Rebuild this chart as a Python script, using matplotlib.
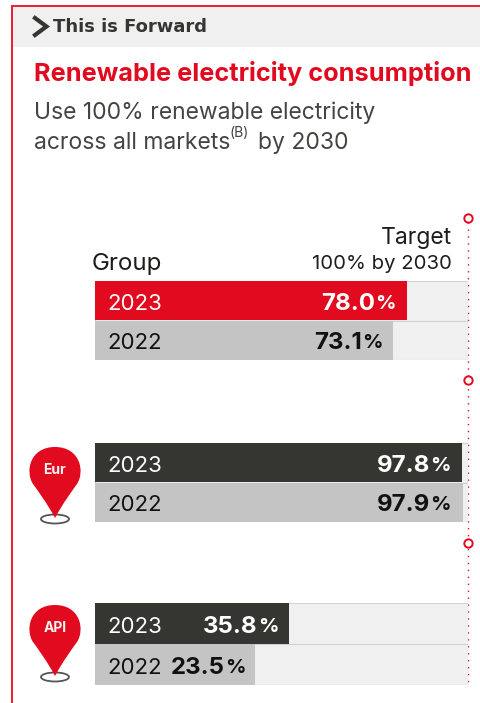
import matplotlib
matplotlib.use("Agg")
import matplotlib.pyplot as plt
from matplotlib.path import Path
from matplotlib.patches import PathPatch, Ellipse, Rectangle

W, H = 481, 703

# valores mostrados e comprimento das barras (% da faixa, a barra original nao esta em escala)
anos = ["2023", "2022"]
grupo_valores = [78.0, 73.1]
eur_valores = [97.8, 97.9]
api_valores = [35.8, 23.5]
grupo_barras = [83.5, 79.9]
eur_barras = [98.3, 98.4]
api_barras = [52.0, 42.9]
cores_2023 = ["#e10a1e", "#353632", "#353632"]
cor_2022 = "#c4c4c4"
cor_fundo = "#f0f0f0"
vermelho = "#e10a1e"
fonte = "Inter"

fig = plt.figure(figsize=(W / 100, H / 100), dpi=100)
ax = fig.add_axes([0, 0, 1, 1])
ax.set_xlim(0, W)
ax.set_ylim(H, 0)
ax.axis("off")

# moldura e cabecalho
ax.add_patch(Rectangle((13, 7), W - 13, 40, color=cor_fundo, lw=0))
ax.plot([12.5, 12.5, W], [H, 6, 6], color="#ee1c30", lw=1.4, solid_joinstyle="miter")
ax.plot([35, 46.5, 35], [18, 26.5, 35], color="#353632", lw=3, solid_joinstyle="miter")
ax.text(53, 26.5, "This is Forward", family="DejaVu Sans", weight="bold", fontsize=13,
        color="#353632", va="center", ha="left")
ax.text(34, 73.5, "Renewable electricity consumption", family=fonte, weight="bold",
        fontsize=18.25, color=vermelho, va="center", ha="left")
ax.text(34, 113, "Use 100% renewable electricity", family=fonte,
        fontsize=16.5, color="#444441", va="center", ha="left")
ax.text(34, 143, "across all markets", family=fonte,
        fontsize=16.5, color="#444441", va="center", ha="left")
ax.text(230, 133, "(B)", family=fonte, fontsize=10,
        color="#444441", va="center", ha="left")
ax.text(258, 143, "by 2030", family=fonte, fontsize=16.5,
        color="#444441", va="center", ha="left")

ax.text(92, 264, "Group", family=fonte, fontsize=17.3, color="#1d1d1b", va="center", ha="left")
ax.text(452, 238, "Target", family=fonte, fontsize=16.5, color="#1d1d1b", va="center", ha="right")
ax.text(452, 264, "100% by 2030", family=fonte, fontsize=14.6, color="#1d1d1b", va="center", ha="right")


def pino(x, y, nome):
    # gota vermelha com o nome da regiao e a argola na ponta
    r = 25.5
    verts = [(x, y + 71), (x - 8, y + 56), (x - 17, y + 44), (x - 22, y + 37),
             (x - 30, y + 25), (x - r, y), (x, y),
             (x + r, y), (x + 30, y + 25), (x + 22, y + 37),
             (x + 17, y + 44), (x + 8, y + 56), (x, y + 71), (x, y + 71)]
    codes = [Path.MOVETO] + [Path.CURVE4] * 12 + [Path.CLOSEPOLY]
    ax.add_patch(Ellipse((x, y + 72), 28, 9, fill=False, ec="#555555", lw=1.3))
    ax.add_patch(PathPatch(Path(verts, codes), fc=vermelho, ec="none", zorder=3))
    ax.text(x, y + 23.5, nome, family=fonte, weight="bold", fontsize=10, color="#f5f5f5",
            va="center", ha="center", zorder=4)


pino(55, 447, "Eur")
pino(55, 605, "API")

# linha da meta
ax.plot([468, 468], [222, 685], color=vermelho, lw=1, ls=(0, (1, 4)), zorder=6)
for yc in [218, 380, 543]:
    ax.plot(468, yc, "o", ms=6, mfc="white", mec=vermelho, mew=1.4, zorder=7)


def grupo(topo, base, valores, barras, cor, pos_rotulos):
    # um eixo por grupo, o eixo x vai de 0 a 100% da faixa
    a = fig.add_axes([95 / W, 1 - base / H, 373.5 / W, (base - topo) / H])
    a.set_xlim(0, 100)
    a.set_ylim(2, 0)
    a.axis("off")
    a.barh([0.5, 1.5], [100, 100], height=1.0, color=cor_fundo, edgecolor="#d2d2d2", linewidth=0.8)
    a.barh([0.5, 1.5], barras, height=0.98, color=[cor, cor_2022])
    for i in range(2):
        c_txt = "white" if i == 0 else "#111111"
        a.text(3.2, i + 0.58, anos[i], family=fonte, fontsize=16, color=c_txt,
               va="center", ha="left")
        xr = pos_rotulos[i]
        v = a.text(xr, i + 0.58, f"{valores[i]:.1f}", family=fonte, weight="bold", fontsize=17.3,
                   color=c_txt, va="center", ha="right")
        a.annotate("%", xy=(1, 0.5), xycoords=v, xytext=(0, 0), textcoords="offset points",
                   family=fonte, weight="bold", fontsize=14.5, color=c_txt, va="center", ha="left")


grupo(281, 360, grupo_valores, grupo_barras, cores_2023[0], [75, 71.5])
grupo(443, 522, eur_valores, eur_barras, cores_2023[1], [89.7, 89.7])
grupo(603, 685, api_valores, api_barras, cores_2023[2], [43.6, 34.8])

fig.savefig("out.png", dpi=100)
